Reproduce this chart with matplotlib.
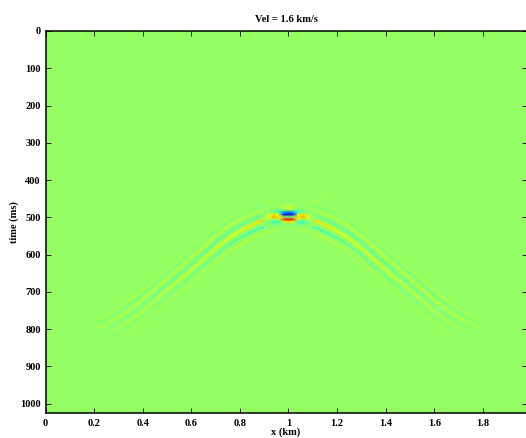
import numpy as np
import matplotlib
matplotlib.use("Agg")
import matplotlib.pyplot as plt
from matplotlib.collections import LineCollection
from matplotlib.colors import Normalize

plt.rcParams['font.family'] = ['Liberation Serif', 'DejaVu Serif']
plt.rcParams['font.weight'] = 'bold'

title = "Vel = 1.6 km/s"
x_label = "x (km)"
y_label = "time (ms)"
x_ticks = [0, 0.2, 0.4, 0.6, 0.8, 1, 1.2, 1.4, 1.6, 1.8]
x_tick_labels = ["0", "0.2", "0.4", "0.6", "0.8", "1", "1.2", "1.4", "1.6", "1.8"]
y_ticks = [0, 100, 200, 300, 400, 500, 600, 700, 800, 900, 1000]

# Apex of the event: amplitude on a small grid
apex_x = [0.90, 0.92, 0.94, 0.96, 0.98, 1.00, 1.02, 1.04, 1.06, 1.08, 1.10]
apex_t = [467, 473.5, 480, 486.5, 493, 499.5, 506, 512.5, 519, 525.5]
apex_amp = [
    [0.00, 0.00, 0.00, 0.00, 0.03, 0.05, 0.03, 0.00, 0.00, 0.00, 0.00],
    [0.00, 0.00, 0.00, 0.00, 0.08, 0.14, 0.08, 0.00, 0.00, 0.00, 0.00],
    [0.00, 0.00, -.04, -.08, 0.02, 0.10, 0.02, -.08, -.04, 0.00, 0.00],
    [0.00, -.04, -.12, -.26, -.45, -.55, -.45, -.26, -.12, -.04, 0.00],
    [0.00, 0.10, 0.28, 0.18, -.75, -.95, -.75, 0.18, 0.28, 0.10, 0.00],
    [0.00, 0.18, 0.38, 0.28, -.05, -.02, -.05, 0.28, 0.38, 0.18, 0.00],
    [0.00, 0.14, -.02, 0.12, 0.62, 0.78, 0.62, 0.12, -.02, 0.14, 0.00],
    [0.00, -.06, -.24, -.20, 0.18, 0.30, 0.18, -.20, -.24, -.06, 0.00],
    [0.00, -.04, -.10, -.08, -.04, -.02, -.04, -.08, -.10, -.04, 0.00],
    [0.00, 0.00, 0.00, 0.00, 0.00, 0.00, 0.00, 0.00, 0.00, 0.00, 0.00],
]

# Wavefront tracks: (x km, time ms, amplitude)
left_x = [0.22, 0.28, 0.34, 0.40, 0.46, 0.52, 0.58, 0.64, 0.70, 0.76, 0.82, 0.88, 0.94]
left_main_t = [822, 804, 781, 752, 718, 684, 652, 618, 584, 553, 530, 512, 501]
left_main_a = [0.00, 0.02, 0.05, 0.07, 0.09, 0.11, 0.13, 0.15, 0.17, 0.20, 0.25, 0.32, 0.36]
left_cyan_low_t = [836, 818, 796, 768, 735, 702, 670, 636, 602, 571, 549, 530, 519]
left_cyan_low_a = [0.00, -.01, -.02, -.03, -.05, -.06, -.07, -.09, -.12, -.15, -.20, -.25, -.26]
left_cyan_mid_t = [812, 792, 767, 738, 703, 670, 636, 602, 567, 537, 514, 497, 489]
left_cyan_mid_a = [-.02, -.04, -.06, -.08, -.09, -.10, -.11, -.12, -.13, -.14, -.14, -.12, -.10]
left_yellow_up_t = [796, 776, 751, 720, 686, 652, 618, 584, 550, 520, 499, 484, 478]
left_yellow_up_a = [0.03, 0.06, 0.07, 0.08, 0.09, 0.09, 0.09, 0.09, 0.09, 0.08, 0.07, 0.05, 0.03]
left_cyan_top_t = [784, 764, 738, 708, 673, 640, 605, 570, 537, 508, 486, 472, 466]
left_cyan_top_a = [-.03, -.05, -.06, -.07, -.07, -.06, -.05, -.04, -.03, -.03, -.03, -.03, -.02]
left_yellow_top_t = [774, 753, 727, 696, 662, 628, 593, 558, 525, 496, 474, 460, 454]
left_yellow_top_a = [0.02, 0.04, 0.05, 0.05, 0.04, 0.03, 0.02, 0.02, 0.01, 0.01, 0.01, 0.01, 0.00]
left_faint_t = [850, 835, 812, 784, 752, 720, 690, 656, 620, 590, 568, 548, 535]
left_faint_a = [0.00, 0.00, 0.01, 0.02, 0.03, 0.03, 0.04, 0.04, 0.05, 0.06, 0.07, 0.06, 0.04]

right_x = [1.06, 1.12, 1.18, 1.24, 1.30, 1.36, 1.42, 1.48, 1.54, 1.60, 1.66, 1.72, 1.78]
right_main_t = [501, 512, 530, 553, 584, 618, 652, 684, 718, 752, 781, 804, 822]
right_main_a = [0.36, 0.32, 0.25, 0.20, 0.17, 0.15, 0.13, 0.11, 0.09, 0.07, 0.05, 0.02, 0.00]
right_cyan_low_t = [519, 530, 549, 571, 602, 636, 670, 702, 735, 768, 796, 818, 836]
right_cyan_low_a = [-.26, -.25, -.20, -.15, -.12, -.09, -.07, -.06, -.05, -.03, -.02, -.01, 0.00]
right_cyan_mid_t = [489, 497, 514, 537, 567, 602, 636, 670, 703, 738, 767, 792, 812]
right_cyan_mid_a = [-.10, -.12, -.14, -.14, -.13, -.12, -.11, -.10, -.09, -.08, -.06, -.04, -.02]
right_yellow_up_t = [478, 484, 499, 520, 550, 584, 618, 652, 686, 720, 751, 776, 796]
right_yellow_up_a = [0.03, 0.05, 0.07, 0.08, 0.09, 0.09, 0.09, 0.09, 0.09, 0.08, 0.07, 0.06, 0.03]
right_cyan_top_t = [466, 472, 486, 508, 537, 570, 605, 640, 673, 708, 738, 764, 784]
right_cyan_top_a = [-.02, -.03, -.03, -.03, -.03, -.04, -.05, -.06, -.07, -.07, -.06, -.05, -.03]
right_yellow_top_t = [454, 460, 474, 496, 525, 558, 593, 628, 662, 696, 727, 753, 774]
right_yellow_top_a = [0.00, 0.01, 0.01, 0.01, 0.01, 0.02, 0.02, 0.03, 0.04, 0.05, 0.05, 0.04, 0.02]
right_faint_t = [535, 548, 568, 590, 620, 656, 690, 720, 752, 784, 812, 835, 850]
right_faint_a = [0.04, 0.06, 0.07, 0.06, 0.05, 0.04, 0.04, 0.03, 0.03, 0.02, 0.01, 0.00, 0.00]

# Short faint limbs rising away from the apex
cross_left_x = [0.84, 0.88, 0.92, 0.96]
cross_left_t = [458, 468, 478, 487]
cross_left_a = [0.00, -.04, -.08, -.10]
cross_right_x = [1.04, 1.08, 1.12, 1.16]
cross_right_t = [487, 478, 468, 458]
cross_right_a = [-.10, -.08, -.04, 0.00]
cross_right_up_t = [476, 467, 457, 447]
cross_right_up_a = [0.06, 0.06, 0.03, 0.00]

x_max = 1.98
t_max = 1024

cmap = plt.get_cmap('jet')
norm = Normalize(vmin=-1.06, vmax=0.94)


def track(ax, xs, ts, amps, lw):
    xs = np.asarray(xs, float)
    ts = np.asarray(ts, float)
    amps = np.asarray(amps, float)
    pts = np.column_stack([xs, ts])
    segs = np.stack([pts[:-1], pts[1:]], axis=1)
    mid = (amps[:-1] + amps[1:]) / 2
    for width, scale in ((lw * 2.2, 0.45), (lw, 1.0)):
        lc = LineCollection(segs, cmap=cmap, norm=norm, linewidths=width,
                            capstyle='round', zorder=2)
        lc.set_array(mid * scale)
        ax.add_collection(lc)


fig = plt.figure(figsize=(5.26, 4.38), dpi=100)
ax = fig.add_axes([45.5 / 526, 1 - 412.5 / 438, (526.5 - 45.5) / 526, (412.5 - 31) / 438])
ax.set_facecolor(cmap(norm(0.0)))

for xs, ts, amps in [
    (left_x, left_faint_t, left_faint_a),
    (left_x, left_yellow_top_t, left_yellow_top_a),
    (left_x, left_cyan_top_t, left_cyan_top_a),
    (left_x, left_yellow_up_t, left_yellow_up_a),
    (left_x, left_cyan_mid_t, left_cyan_mid_a),
    (left_x, left_cyan_low_t, left_cyan_low_a),
    (left_x, left_main_t, left_main_a),
    (right_x, right_faint_t, right_faint_a),
    (right_x, right_yellow_top_t, right_yellow_top_a),
    (right_x, right_cyan_top_t, right_cyan_top_a),
    (right_x, right_yellow_up_t, right_yellow_up_a),
    (right_x, right_cyan_mid_t, right_cyan_mid_a),
    (right_x, right_cyan_low_t, right_cyan_low_a),
    (right_x, right_main_t, right_main_a),
    (cross_left_x, cross_left_t, cross_left_a),
    (cross_right_x, cross_right_t, cross_right_a),
    (cross_right_x, cross_right_up_t, cross_right_up_a),
]:
    track(ax, xs, ts, amps, 0.9)

X, T = np.meshgrid(apex_x, apex_t)
ax.pcolormesh(X, T, np.asarray(apex_amp), cmap=cmap, norm=norm, shading='gouraud', zorder=3)

ax.set_xlim(0, x_max)
ax.set_ylim(t_max, 0)
ax.set_xticks(x_ticks)
ax.set_xticklabels(x_tick_labels)
ax.set_yticks(y_ticks)
ax.tick_params(axis='both', direction='in', length=3.5, width=0.7, top=True, right=True,
               labelsize=7.5, color='#222222')
ax.tick_params(axis='x', pad=4.5)
ax.tick_params(axis='y', pad=3.5)
for s in ax.spines.values():
    s.set_linewidth(1.1)
ax.set_title(title, fontsize=7.6, fontweight='bold', pad=6.5)
ax.set_xlabel(x_label, fontsize=7.5, fontweight='bold', labelpad=0)
ax.set_ylabel(y_label, fontsize=7.5, fontweight='bold', labelpad=0.5)
fig.savefig("out.png", dpi=100)
